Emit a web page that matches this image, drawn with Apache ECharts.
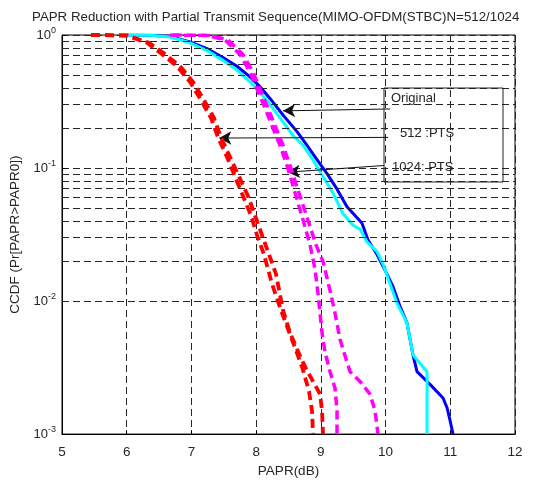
<!DOCTYPE html>
<html>
<head>
<meta charset="utf-8">
<script src="https://cdn.jsdelivr.net/npm/echarts@6/dist/echarts.min.js"></script>
<style>html,body{margin:0;padding:0;background:#fff}#c{width:539px;height:483px}</style>
</head>
<body>
<div id="c"></div>
<script>
// ---- data (PAPR in dB, CCDF) ----
const titleText = 'PAPR Reduction with Partial Transmit Sequence(MIMO-OFDM(STBC)N=512/1024';
const xTicks = [5, 6, 7, 8, 9, 10, 11, 12];
const yTicks = [0.001, 0.01, 0.1, 1];
const legendTexts = ['Original', '512 :PTS', '1024: PTS'];

const originalBlue = [[6.004,1],[6.360,0.995],[6.669,0.975],[6.978,0.8885],[7.241,0.7897],[7.488,0.6781],[7.704,0.5824],[7.905,0.4837],[8.060,0.4087],[8.214,0.3337],[8.415,0.2503],[8.632,0.1878],[8.786,0.1483],[8.910,0.1211],[9.095,0.09086],[9.250,0.06937],[9.404,0.05117],[9.528,0.04396],[9.636,0.0384],[9.729,0.02882],[9.868,0.02237],[10.022,0.01595],[10.115,0.01281],[10.223,0.009138],[10.331,0.006856],[10.424,0.003928],[10.486,0.002946],[10.687,0.002366],[10.888,0.001867],[10.950,0.001578],[10.996,0.001267],[11.042,0.001]];
const originalCyan = [[6.004,1],[6.360,0.995],[6.669,0.9668],[6.978,0.8735],[7.241,0.7633],[7.488,0.6447],[7.704,0.5445],[7.905,0.4445],[8.060,0.3692],[8.214,0.3014],[8.415,0.2224],[8.570,0.1756],[8.724,0.1483],[8.879,0.1151],[9.033,0.08636],[9.188,0.06481],[9.342,0.04546],[9.497,0.03713],[9.605,0.0347],[9.713,0.02786],[9.868,0.02352],[9.961,0.01889],[10.069,0.01348],[10.177,0.00961],[10.331,0.006856],[10.424,0.003928],[10.641,0.002946],[10.641,0.001]];
const ptsRedA = [[5.448,1],[6.004,0.9916],[6.314,0.8735],[6.514,0.738],[6.777,0.5824],[6.978,0.4445],[7.133,0.3337],[7.303,0.2379],[7.411,0.1698],[7.550,0.1211],[7.673,0.08636],[7.797,0.06162],[7.921,0.04396],[8.013,0.03135],[8.122,0.02237],[8.245,0.01348],[8.400,0.008118],[8.570,0.004891],[8.709,0.003207],[8.817,0.002102],[8.863,0.0015],[8.879,0.001]];
const ptsRedB = [[5.448,1],[6.004,0.9916],[6.344,0.8735],[6.561,0.738],[6.824,0.5824],[7.024,0.4445],[7.179,0.3337],[7.349,0.2379],[7.457,0.1698],[7.596,0.1211],[7.735,0.08636],[7.874,0.06162],[7.983,0.04396],[8.091,0.03135],[8.199,0.02237],[8.307,0.01595],[8.415,0.00854],[8.523,0.005792],[8.632,0.004346],[8.755,0.003207],[8.879,0.002489],[8.987,0.001998],[9.018,0.0015],[9.033,0.001]];
const ptsMagentaA = [[6.669,1],[7.241,0.9916],[7.519,0.919],[7.751,0.7134],[7.905,0.5264],[8.029,0.3755],[8.137,0.2818],[8.245,0.2078],[8.369,0.1483],[8.493,0.09888],[8.616,0.06162],[8.740,0.0384],[8.833,0.02648],[8.910,0.01736],[8.956,0.01138],[9.018,0.005792],[9.064,0.004131],[9.142,0.002946],[9.219,0.002211],[9.250,0.0015],[9.250,0.001]];
const ptsMagentaB = [[6.715,1],[7.287,0.9916],[7.565,0.919],[7.797,0.7134],[7.952,0.5264],[8.075,0.3755],[8.183,0.2818],[8.292,0.2078],[8.415,0.1483],[8.539,0.09888],[8.678,0.06162],[8.817,0.0384],[8.925,0.02648],[9.033,0.01987],[9.142,0.01197],[9.219,0.008118],[9.296,0.005145],[9.389,0.00367],[9.451,0.002946],[9.605,0.002489],[9.760,0.001998],[9.837,0.0015],[9.883,0.001]];

// ---- layout / annotations ----
const minorGrid = [];
[0.001, 0.01, 0.1].forEach(d => { for (let k = 2; k <= 9; k++) minorGrid.push(+(d * k).toPrecision(3)); });
const arrows = [
  [[10.07, 0.278], [8.416, 0.269]],
  [[10.04, 0.170], [7.43, 0.168]],
  [[9.98, 0.1045], [8.49, 0.0931]]
];
const FONT = '"Liberation Sans", Arial, Helvetica, sans-serif';
const TXT = '#262626';
const dash = { type: [7, 4], color: '#262626', width: 1 };

function curve(name, data, color, width, dashed, z) {
  return {
    name, type: 'line', data, showSymbol: false, symbol: 'none', z,
    lineStyle: { color, width, type: dashed ? [9, 5] : 'solid', cap: 'butt', join: 'round' },
    animation: false, silent: true
  };
}

const chart = echarts.init(document.getElementById('c'), null, { renderer: 'canvas' });
chart.setOption({
  animation: false,
  backgroundColor: '#fff',
  textStyle: { fontFamily: FONT },
  title: {
    text: titleText, left: 27, top: 6,
    textStyle: { fontFamily: FONT, fontSize: 13.3, fontWeight: 'normal', color: TXT }
  },
  grid: { left: 62, right: 24, top: 35, bottom: 39, show: true, borderColor: '#000', borderWidth: 1, backgroundColor: 'transparent' },
  xAxis: {
    type: 'value', min: 5, max: 12, interval: 1,
    name: 'PAPR(dB)', nameLocation: 'middle', nameGap: 24,
    nameTextStyle: { fontFamily: FONT, fontSize: 13.5, color: TXT },
    axisLine: { lineStyle: { color: '#000' } },
    axisTick: { inside: true, length: 4, lineStyle: { color: '#000' } },
    axisLabel: { fontFamily: FONT, fontSize: 13.5, color: TXT, margin: 11,
      formatter: v => xTicks.includes(v) ? String(v) : '' },
    splitLine: { show: true, lineStyle: dash }
  },
  yAxis: {
    type: 'log', logBase: 10, min: 0.001, max: 1,
    name: 'CCDF (Pr[PAPR>PAPR0])', nameLocation: 'middle', nameGap: 37,
    nameTextStyle: { fontFamily: FONT, fontSize: 13.5, color: TXT },
    axisLine: { show: true, lineStyle: { color: '#000' } },
    axisTick: { show: true, inside: true, length: 4, lineStyle: { color: '#000' } },
    axisLabel: {
      margin: 6, color: TXT,
      formatter: v => { const e = Math.round(Math.log10(v)); return '{b|10}{s|' + e + '}'; },
      rich: {
        b: { fontFamily: FONT, fontSize: 13, color: TXT },
        s: { fontFamily: FONT, fontSize: 9, color: TXT, verticalAlign: 'bottom', padding: [0, 0, 9, 0] }
      }
    },
    splitLine: { show: true, lineStyle: dash }
  },
  series: [
    {
      name: 'grid', type: 'line', data: [], z: 1, silent: true,
      markLine: {
        silent: true, symbol: ['none', 'none'], animation: false,
        label: { show: false }, lineStyle: dash,
        data: minorGrid.map(v => ({ yAxis: v }))
      }
    },
    curve('Original N=1024', originalBlue, '#0000ff', 3, false, 3),
    curve('Original N=512', originalCyan, '#00ffff', 3, false, 4),
    curve('PTS A', ptsRedA, '#ff0000', 3.8, true, 5),
    curve('PTS B', ptsRedB, '#ff0000', 3.8, true, 5),
    curve('PTS C', ptsMagentaA, '#ff00ff', 3.5, true, 6),
    curve('PTS D', ptsMagentaB, '#ff00ff', 3.5, true, 6),
    {
      name: 'arrows', type: 'line', data: [], z: 8, silent: true,
      markLine: {
        silent: true, animation: false, symbol: ['none', 'arrow'], symbolSize: [10, 12],
        label: { show: false },
        lineStyle: { color: '#111', width: 1, type: 'solid' },
        data: arrows.map(a => [{ coord: a[0] }, { coord: a[1] }])
      }
    }
  ],
  graphic: [
    { type: 'rect', z: 20, shape: { x: 384, y: 88, width: 119, height: 94 },
      style: { fill: 'transparent', stroke: '#222', lineWidth: 1 } },
    { type: 'text', z: 21, left: 391, top: 92, style: { text: legendTexts[0], font: '13px ' + FONT, fill: TXT } },
    { type: 'text', z: 21, left: 400, top: 127, style: { text: legendTexts[1], font: '13px ' + FONT, fill: TXT } },
    { type: 'text', z: 21, left: 392, top: 161, style: { text: legendTexts[2], font: '13px ' + FONT, fill: TXT } }
  ]
});
</script>
</body>
</html>
